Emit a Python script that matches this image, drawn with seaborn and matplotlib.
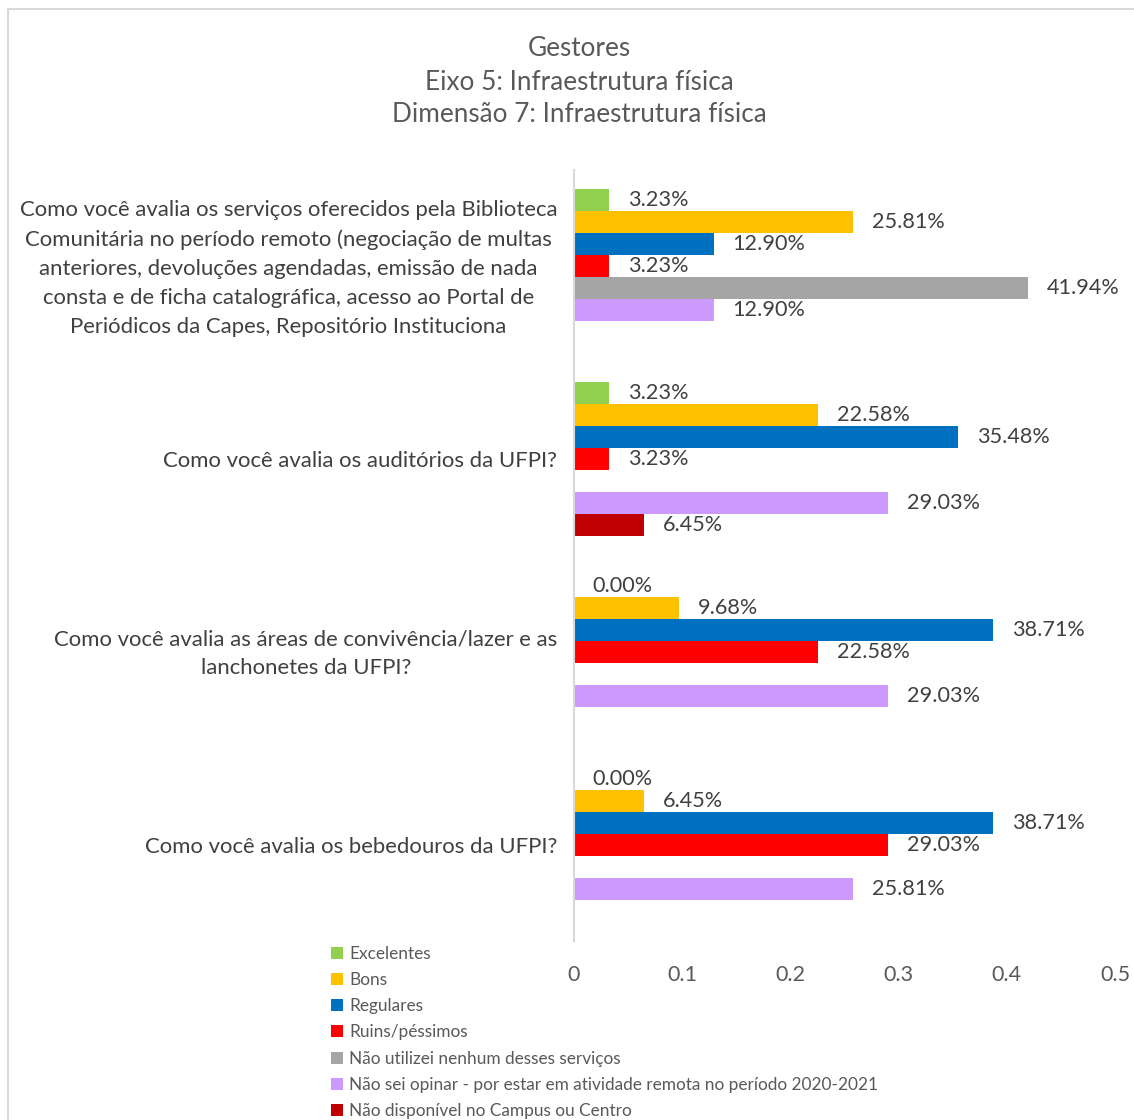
import matplotlib
matplotlib.use("Agg")
import matplotlib.pyplot as plt
import matplotlib.transforms as mtransforms
import seaborn as sns
import pandas as pd
import numpy as np
from matplotlib.patches import Rectangle

# ---- data ----
categories = [
    "Como você avalia os serviços oferecidos pela Biblioteca\nComunitária no período remoto (negociação de multas\nanteriores, devoluções agendadas, emissão de nada\nconsta e de ficha catalográfica, acesso ao Portal de\nPeriódicos da Capes, Repositório Instituciona",
    "Como você avalia os auditórios da UFPI?",
    "Como você avalia as áreas de convivência/lazer e as\nlanchonetes da UFPI?",
    "Como você avalia os bebedouros da UFPI?",
]
series = [
    "Excelentes",
    "Bons",
    "Regulares",
    "Ruins/péssimos",
    "Não utilizei nenhum desses serviços",
    "Não sei opinar - por estar em atividade remota no período 2020-2021",
    "Não disponível no Campus ou Centro",
]
excelentes = [0.0323, 0.0323, 0.0, 0.0]
bons = [0.2581, 0.2258, 0.0968, 0.0645]
regulares = [0.1290, 0.3548, 0.3871, 0.3871]
ruins = [0.0323, 0.0323, 0.2258, 0.2903]
nao_utilizei = [0.4194, None, None, None]
nao_sei = [0.1290, 0.2903, 0.2903, 0.2581]
nao_disponivel = [None, 0.0645, None, None]
series_values = [excelentes, bons, regulares, ruins, nao_utilizei, nao_sei, nao_disponivel]
colors = ["#92D050", "#FFC000", "#0070C0", "#FF0000", "#A5A5A5", "#CC99FF", "#C00000"]
xticks = [0, 0.1, 0.2, 0.3, 0.4, 0.5]
xtick_labels = ["0", "0.1", "0.2", "0.3", "0.4", "0.5"]
title_lines = ["Gestores", "Eixo 5: Infraestrutura física", "Dimensão 7: Infraestrutura física"]

rows = []
for s, vals in zip(series, series_values):
    for c, v in zip(categories, vals):
        if v is not None:
            rows.append({"categoria": c, "serie": s, "valor": v})
df = pd.DataFrame(rows)

# ---- style ----
sns.set_style("white")
plt.rcParams["font.family"] = ["Lato", "DejaVu Sans"]
TXT = "#595959"
DARK = "#404040"

W, H = 1134, 1120
fig = plt.figure(figsize=(W / 100, H / 100), dpi=100)
fig.patch.set_facecolor("white")

# chart-area border (partially cropped)
fig.add_artist(Rectangle((8 / W, -0.05), 1.2, 1 - 9 / H + 0.05, transform=fig.transFigure,
                         fill=False, edgecolor="#D9D9D9", linewidth=1.5))

ax = fig.add_axes([574 / W, 1 - 941 / H, (1115 - 574) / W, (941 - 170) / H])

sns.barplot(data=df, y="categoria", x="valor", hue="serie", order=categories,
            hue_order=series, palette=colors, saturation=1, orient="h",
            width=0.8, linewidth=0, errorbar=None, ax=ax)

ax.set_xlim(0, 0.5)
ax.set_xticks(xticks)
ax.set_xticklabels(xtick_labels)
ax.set_xlabel("")
ax.set_ylabel("")

for sp in ["top", "right", "bottom"]:
    ax.spines[sp].set_visible(False)
ax.spines["left"].set_color("#D9D9D9")
ax.spines["left"].set_linewidth(1.5)
ax.grid(False)

ax.tick_params(axis="x", length=0, pad=17, labelsize=15.5, labelcolor=TXT)
ax.tick_params(axis="y", length=0, pad=12, labelsize=15.9, labelcolor=DARK)
shift_up = mtransforms.ScaledTranslation(0, 4.5 / 100, fig.dpi_scale_trans)
for t in ax.get_yticklabels():
    t.set_multialignment("center")
    t.set_linespacing(1.56)
    if "\n" in t.get_text():
        t.set_transform(t.get_transform() + shift_up)

for cont in ax.containers:
    ax.bar_label(cont, fmt=lambda v: f"{v:.2%}", padding=13.5, fontsize=15.6,
                 color=DARK)

leg = ax.get_legend()
handles, labels = ax.get_legend_handles_labels()
if leg is not None:
    leg.remove()
fig.legend(handles, labels, loc="upper left", bbox_to_anchor=(331 / W, 1 - 946 / H),
           bbox_transform=fig.transFigure, frameon=False, fontsize=12.4,
           handlelength=0.7, handleheight=0.7, handletextpad=0.35,
           labelspacing=0.59, borderpad=0, borderaxespad=0, labelcolor=TXT)

title_y = [48, 82, 115]
for line, yy in zip(title_lines, title_y):
    fig.text(579.5 / W, 1 - yy / H, line, ha="center", va="center", fontsize=18.8, color=TXT)

fig.savefig("out.png", dpi=100, facecolor="white")
